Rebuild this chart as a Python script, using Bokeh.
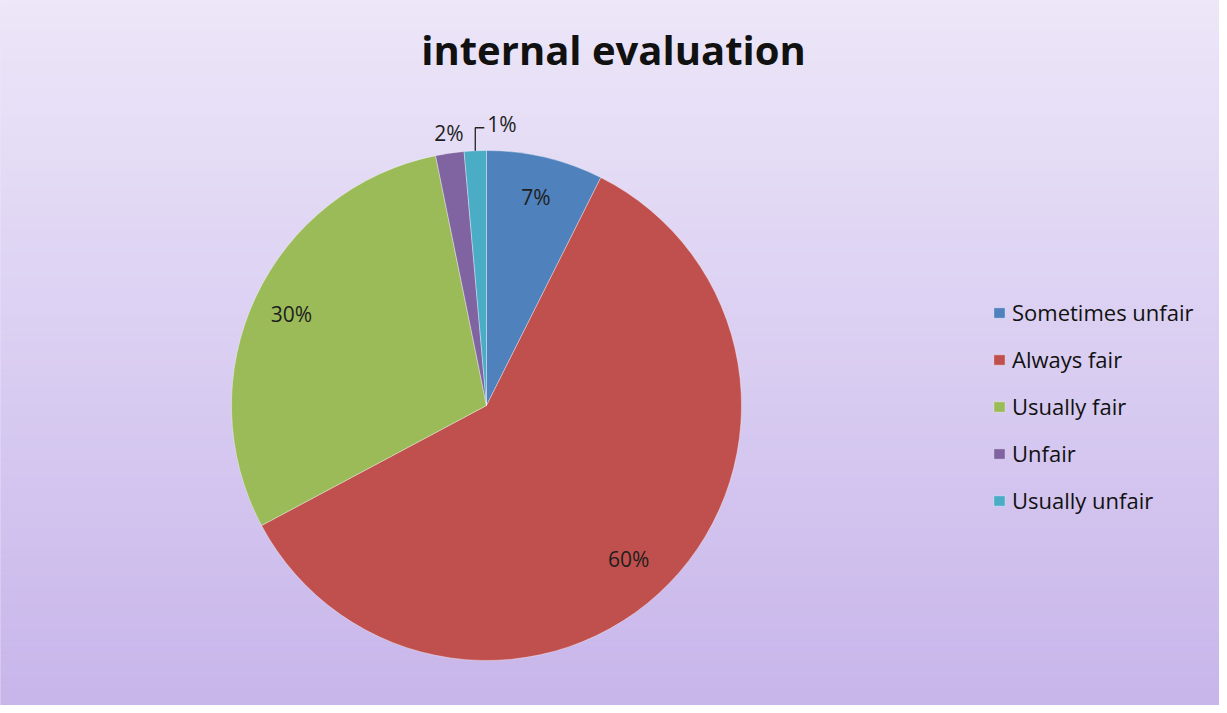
import numpy as np
from bokeh.plotting import figure
from bokeh.models import Label, Legend, LegendItem, Range1d
from bokeh.core.properties import value
from bokeh.embed import file_html
from bokeh.resources import INLINE

title_text = "internal evaluation"
categories = ["Sometimes unfair", "Always fair", "Usually fair", "Unfair", "Usually unfair"]
shares = [7.4, 59.8, 29.6, 1.8, 1.4]
pct_labels = ["7%", "60%", "30%", "2%", "1%"]
colors = ["#4f81bd", "#c0504d", "#9bbb59", "#8064a2", "#4bacc6"]

W, H = 1219, 705
FONT = "Open Sans"

p = figure(width=W, height=H, output_backend="svg", toolbar_location=None,
           x_range=Range1d(0, W), y_range=Range1d(0, H), min_border=0)
p.axis.visible = False
p.grid.visible = False
p.outline_line_color = None
p.background_fill_color = "#dcd2f2"
p.border_fill_color = "#dcd2f2"

# vertical gradient background
n = 120
c_top = np.array([237, 231, 249])
c_bot = np.array([200, 182, 235])
edges = np.linspace(H, 0, n + 1)
grad_cols = []
for i in range(n):
    t = i / (n - 1)
    c = (c_top * (1 - t) + c_bot * t).astype(int)
    grad_cols.append("#%02x%02x%02x" % tuple(c))
p.quad(left=0, right=W, top=edges[:-1], bottom=edges[1:], fill_color=grad_cols,
       line_color=grad_cols, line_width=1)

# pie
cx, cy, R = 486, 300, 255
frac = np.array(shares) / sum(shares)
cum = np.concatenate([[0], np.cumsum(frac)])
starts = np.pi / 2 - cum[1:] * 2 * np.pi
ends = np.pi / 2 - cum[:-1] * 2 * np.pi
renderers = []
for i in range(len(categories)):
    r = p.wedge(x=cx, y=cy, radius=R, radius_units="screen",
                start_angle=starts[i], end_angle=ends[i],
                fill_color=colors[i], line_color="#ffffff", line_width=0.6, line_alpha=0.6)
    renderers.append(r)

# labels
LBL_SIZE = "21px"
mid = (starts + ends) / 2
label_r = [0.84, 0.82, 0.845]
label_da = [0.0, -0.05, 0.0]
for i, lab in enumerate(pct_labels):
    a = mid[i]
    if frac[i] > 0.05:
        rr = label_r[i] * R
        a2 = a + label_da[i]
        x = cx + rr * np.cos(a2)
        y = cy + rr * np.sin(a2)
        p.text(x=[x], y=[y], text=[lab], text_align="center", text_baseline="middle",
               text_font=value(FONT), text_font_size=LBL_SIZE, text_color="#1e1e1e")
    elif i == 3:
        rr = 1.08 * R
        x = cx + rr * np.cos(a)
        y = cy + rr * np.sin(a)
        p.text(x=[x + 2], y=[y], text=[lab], text_align="center", text_baseline="middle",
               text_font=value(FONT), text_font_size=LBL_SIZE, text_color="#1e1e1e")
    else:
        x0 = cx + R * np.cos(a)
        y0 = cy + R * np.sin(a)
        y1 = y0 + 23
        p.line(x=[x0, x0, x0 + 9], y=[y0, y1, y1], line_color="#222222", line_width=1.3)
        p.text(x=[x0 + 12], y=[y1 + 4], text=[lab], text_align="left", text_baseline="middle",
               text_font=value(FONT), text_font_size=LBL_SIZE, text_color="#1e1e1e")

# title
p.add_layout(Label(x=613, y=656, x_units="screen", y_units="screen", text=title_text,
                   text_font=FONT, text_font_style="bold", text_font_size="40px",
                   text_align="center", text_baseline="middle", text_color="#111111"))

legend = Legend(items=[LegendItem(label=categories[i], renderers=[renderers[i]]) for i in range(len(categories))],
                location=(992, 190), orientation="vertical",
                glyph_width=14, glyph_height=13, label_height=22, spacing=17,
                padding=0, margin=0, label_standoff=6,
                label_text_font=FONT, label_text_font_size="22px", label_text_color="#111111",
                background_fill_alpha=0, border_line_color=None)
p.add_layout(legend, "center")

open("out.html", "w").write(file_html(p, INLINE))
